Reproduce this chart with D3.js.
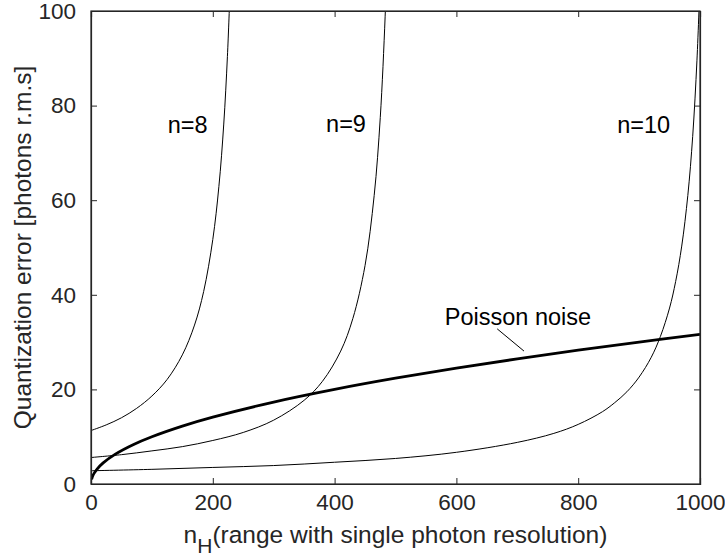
<!DOCTYPE html>
<html>
<head>
<meta charset="utf-8">
<script src="https://cdn.jsdelivr.net/npm/d3@7"></script>
<style>
  body { margin: 0; background: #fff; }
  svg { display: block; font-family: "Liberation Sans", Arial, sans-serif; }
</style>
</head>
<body>
<div id="wrapper"></div>
<script>
// data
const nH8 = [0, 25, 50, 75, 100, 125, 150, 170, 185, 200, 210, 218, 224, 228]
const err8 = [11.3, 12.5, 14.0, 16.0, 18.6, 22.1, 27.3, 33.6, 40.7, 51.7, 62.9, 76.1, 90.4, 103.3]

const nH9 = [0, 50, 100, 150, 200, 250, 300, 350, 380, 410, 430, 450, 465, 475, 483, 487]
const err9 = [5.6, 6.2, 7.0, 7.9, 9.2, 10.9, 13.5, 17.7, 21.7, 28.1, 35.0, 46.2, 61.0, 77.5, 98.9, 114.7]

const nH10 = [0, 100, 200, 300, 400, 500, 600, 700, 760, 800, 840, 860, 880, 900, 920, 935, 950, 960, 970, 980, 988, 995, 1000]
const err10 = [2.8, 3.1, 3.5, 3.9, 4.6, 5.4, 6.7, 8.8, 10.7, 12.6, 15.3, 17.2, 19.5, 22.6, 26.8, 31.2, 37.2, 42.8, 50.3, 61.0, 73.5, 89.6, 106]

const nHPoisson = [1, 3, 5, 10, 20, 40, 70, 100, 150, 200, 300, 400, 500, 600, 700, 800, 900, 1000]
const errPoisson = [1.0, 1.73, 2.24, 3.16, 4.47, 6.32, 8.37, 10.0, 12.25, 14.14, 17.32, 20.0, 22.36, 24.49, 26.46, 28.28, 30.0, 31.62]

const xTicks = [0, 200, 400, 600, 800, 1000]
const yTicks = [0, 20, 40, 60, 80, 100]

const curveLabels = ["n=8", "n=9", "n=10"]
const curveLabelX = [126, 386, 864]
const curveLabelY = [74.2, 74.4, 74.2]

// Mitoitus
const dimensions = {
  width: 725,
  height: 558,
  margin: { top: 11, right: 25, bottom: 74, left: 91 }
}
dimensions.boundedWidth = dimensions.width - dimensions.margin.left - dimensions.margin.right
dimensions.boundedHeight = dimensions.height - dimensions.margin.top - dimensions.margin.bottom

const axisColor = "#262626"

const wrapper = d3.select("#wrapper")
  .append("svg")
  .attr("width", dimensions.width)
  .attr("height", dimensions.height)

const boundingBox = wrapper.append("g")
  .attr("transform", `translate(${dimensions.margin.left},${dimensions.margin.top})`)

// Skaalaimet
const xScale = d3.scaleLinear()
  .domain([0, 1000])
  .range([0, dimensions.boundedWidth])

const yScale = d3.scaleLinear()
  .domain([0, 100])
  .range([dimensions.boundedHeight, 0])

boundingBox.append("clipPath")
  .attr("id", "plot-clip")
  .append("rect")
  .attr("width", dimensions.boundedWidth)
  .attr("height", dimensions.boundedHeight)

// Käyrät
const lineGenerator = d3.line()
  .x(d => xScale(d[0]))
  .y(d => yScale(d[1]))
  .curve(d3.curveCatmullRom.alpha(0.5))

const series = [
  { xs: nH8, ys: err8, width: 1 },
  { xs: nH9, ys: err9, width: 1 },
  { xs: nH10, ys: err10, width: 1 },
  { xs: nHPoisson, ys: errPoisson, width: 2.8 }
]

const curves = boundingBox.append("g").attr("clip-path", "url(#plot-clip)")
series.forEach(s => {
  curves.append("path")
    .attr("d", lineGenerator(d3.zip(s.xs, s.ys)))
    .attr("fill", "none")
    .attr("stroke", "black")
    .attr("stroke-width", s.width)
})

// Akselit
const tickLen = 6
const xAxis = boundingBox.append("g")
  .attr("transform", `translate(0,${dimensions.boundedHeight})`)
  .call(d3.axisBottom(xScale).tickValues(xTicks).tickFormat(d3.format("d")).tickSize(-tickLen).tickPadding(tickLen + 12))
const xAxisTop = boundingBox.append("g")
  .call(d3.axisTop(xScale).tickValues(xTicks).tickSize(-tickLen).tickFormat(""))
const yAxis = boundingBox.append("g")
  .call(d3.axisLeft(yScale).tickValues(yTicks).tickFormat(d3.format("d")).tickSize(-tickLen).tickPadding(tickLen + 9))
const yAxisRight = boundingBox.append("g")
  .attr("transform", `translate(${dimensions.boundedWidth},0)`)
  .call(d3.axisRight(yScale).tickValues(yTicks).tickSize(-tickLen).tickFormat(""))

;[xAxis, xAxisTop, yAxis, yAxisRight].forEach(a => {
  a.select(".domain").attr("stroke", axisColor).attr("stroke-width", 1.2)
  a.selectAll(".tick line").attr("stroke", axisColor)
  a.selectAll(".tick text")
    .attr("fill", axisColor)
    .attr("font-size", "22.5px")
    .attr("font-family", "Liberation Sans, Arial, sans-serif")
})
xAxis.selectAll(".tick text").attr("dy", "0.35em")

boundingBox.append("rect")
  .attr("width", dimensions.boundedWidth)
  .attr("height", dimensions.boundedHeight)
  .attr("fill", "none")
  .attr("stroke", axisColor)
  .attr("stroke-width", 1.2)

// Tekstit
curveLabels.forEach((t, i) => {
  boundingBox.append("text")
    .attr("x", xScale(curveLabelX[i]))
    .attr("y", yScale(curveLabelY[i]))
    .attr("font-size", "23.5px")
    .attr("fill", "black")
    .text(t)
})

boundingBox.append("text")
  .attr("x", xScale(581))
  .attr("y", yScale(33.6))
  .attr("font-size", "23.5px")
  .attr("fill", "black")
  .text("Poisson noise")

boundingBox.append("line")
  .attr("x1", xScale(667))
  .attr("y1", yScale(32.8))
  .attr("x2", xScale(711))
  .attr("y2", yScale(28.1))
  .attr("stroke", "black")
  .attr("stroke-width", 1)

// Akselien otsikot
const xLabel = wrapper.append("text")
  .attr("x", dimensions.margin.left + dimensions.boundedWidth / 2)
  .attr("y", 543)
  .attr("text-anchor", "middle")
  .attr("font-size", "24.5px")
  .attr("fill", axisColor)
xLabel.append("tspan").text("n")
xLabel.append("tspan").attr("dy", 10).attr("font-size", "21px").text("H")
xLabel.append("tspan").attr("dy", -10).text("(range with single photon resolution)")

wrapper.append("text")
  .attr("transform", `translate(31,${dimensions.margin.top + dimensions.boundedHeight / 2}) rotate(-90)`)
  .attr("text-anchor", "middle")
  .attr("font-size", "24.5px")
  .attr("fill", axisColor)
  .text("Quantization error [photons r.m.s]")
</script>
</body>
</html>
